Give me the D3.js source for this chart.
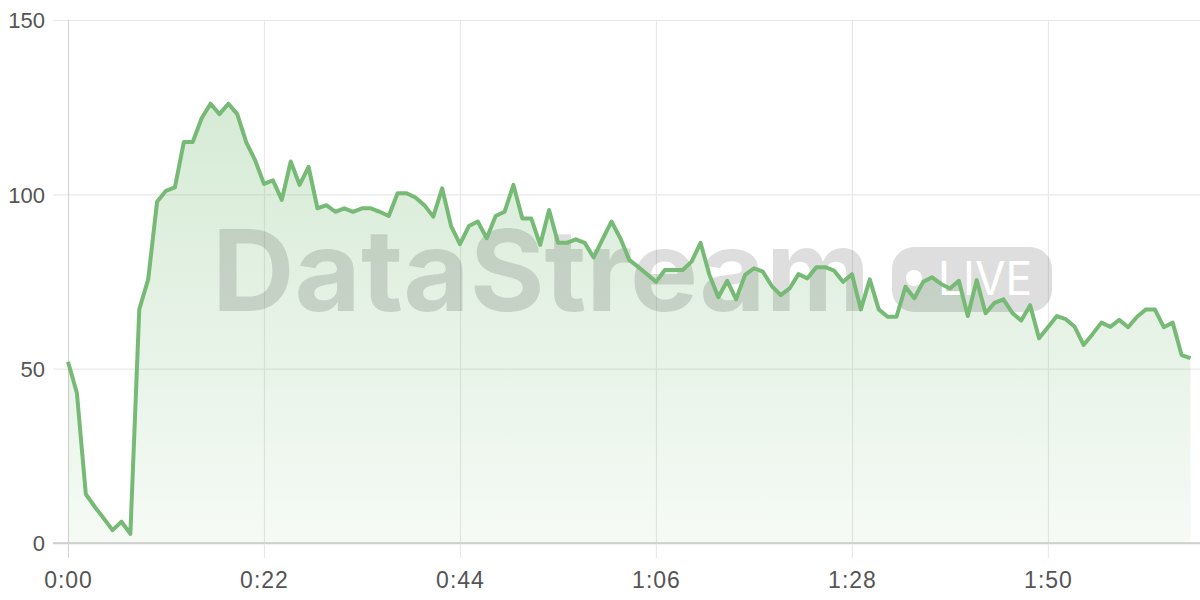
<!DOCTYPE html>
<html><head><meta charset="utf-8">
<script src="https://cdn.jsdelivr.net/npm/d3@7"></script>
<style>
html,body{margin:0;padding:0;background:#fff;}
svg{display:block;}
</style></head>
<body>
<svg id="chart" width="1200" height="600"></svg>
<script>
// seconds elapsed (one sample per second)
const seconds = d3.range(0, 127);
const values = [52,43,14,10.4,7.1,3.7,6.1,2.6,67,75.6,
97.9,101,102,115,115,121.8,126,123,126,123,
115,109.8,103,104,98.4,109.4,102.7,107.9,96,96.9,
95,96,95,96,96,95,93.8,100.3,100.3,99.1,
96.9,93.6,101.7,90.9,85.7,90.9,92.2,87.4,93.8,95,
102.7,93.1,93.1,85.5,95.5,86.1,86.1,87.1,86.1,81.9,
87.1,92.2,87.4,81.2,79.2,77.1,74.9,78.3,78.3,78.3,
80.7,86.1,76.9,70.5,75.2,69.9,76.9,78.8,77.8,73.7,
71.1,73,77.1,75.9,79.1,79.1,78.1,74.9,77.1,67,
75.6,67,64.9,64.9,73.5,70.2,74.9,76.2,74.3,73,
75.2,65.1,75.4,65.9,68.9,69.9,66,63.8,68.2,58.7,
61.9,65.1,64.2,62,56.8,59.9,63.2,62,64,61.9,
64.9,67,67,61.9,63.2,53.9,53];
const xTicks = [0, 22, 44, 66, 88, 110];
const yTicks = [0, 50, 100, 150];
const watermarkText = "DataStream";
const badgeText = "LIVE";

const data = seconds.map((s, i) => ({s, v: values[i]}));

const svg = d3.select("#chart");
const x = d3.scaleLinear().domain([0, 126]).range([68, 1190.5]);
const y = d3.scaleLinear().domain([0, 150]).range([543, 20]);
const fmt = s => Math.floor(s / 60) + ":" + String(s % 60).padStart(2, "0");
const font = "'Liberation Sans', Arial, sans-serif";

const defs = svg.append("defs");
const grad = defs.append("linearGradient").attr("id", "areaGrad")
  .attr("gradientUnits", "userSpaceOnUse")
  .attr("x1", 0).attr("x2", 0).attr("y1", y(126)).attr("y2", y(0));
grad.append("stop").attr("offset", 0).attr("stop-color", "#76ba76").attr("stop-opacity", 0.3);
grad.append("stop").attr("offset", 1).attr("stop-color", "#76ba76").attr("stop-opacity", 0.07);

// horizontal grid + y labels
const yAxis = d3.axisLeft(y).tickValues(yTicks).tickSize(-(1200 - 53)).tickPadding(8);
const gy = svg.append("g").attr("transform", "translate(53,0)").call(yAxis);
gy.select(".domain").remove();
gy.selectAll(".tick line").attr("stroke", d => d === 0 ? "#cfcfcf" : "#e9e9e9").attr("stroke-width", d => d === 0 ? 1.5 : 1.2);
gy.selectAll(".tick text").attr("font-family", font).attr("font-size", 22).attr("fill", "#555").attr("x", -8).attr("dy", "0.35em");

// vertical grid + x labels
const xAxis = d3.axisBottom(x).tickValues(xTicks).tickFormat(fmt).tickSize(-(558 - 20)).tickPadding(14);
const gx = svg.append("g").attr("transform", "translate(0,558)").call(xAxis);
gx.select(".domain").remove();
gx.selectAll(".tick line").attr("stroke", d => d === 0 ? "#d6d6d6" : "#e8e8e8").attr("stroke-width", 1.2);
gx.selectAll(".tick text").attr("font-family", font).attr("font-size", 23).attr("fill", "#555")
  .attr("letter-spacing", 1).attr("y", 14).attr("dy", "0.71em");

// redraw baseline above vertical grid
svg.append("line").attr("x1", 53).attr("x2", 1200).attr("y1", y(0)).attr("y2", y(0))
  .attr("stroke", "#cfcfcf").attr("stroke-width", 1.5);

// area
const area = d3.area().x(d => x(d.s)).y0(y(0)).y1(d => y(d.v));
svg.append("path").datum(data).attr("d", area).attr("fill", "url(#areaGrad)");

// watermark
const wm = svg.append("g");
wm.append("text").attr("x", 212).attr("y", 311)
  .attr("font-family", "Inter, 'Open Sans', sans-serif").attr("font-weight", 700)
  .attr("font-size", 113).attr("textLength", 658).attr("lengthAdjust", "spacingAndGlyphs")
  .attr("fill", "rgba(0,0,0,0.13)").text(watermarkText);
wm.append("rect").attr("x", 892).attr("y", 247).attr("width", 160).attr("height", 65)
  .attr("rx", 22).attr("fill", "rgba(0,0,0,0.13)");
wm.append("circle").attr("cx", 914).attr("cy", 278).attr("r", 8).attr("fill", "#fff");
wm.append("text").attr("x", 938).attr("y", 295)
  .attr("font-family", "Inter, 'Open Sans', sans-serif").attr("font-weight", 400)
  .attr("font-size", 46).attr("textLength", 94).attr("lengthAdjust", "spacingAndGlyphs")
  .attr("fill", "#fff").text(badgeText);

// line
const line = d3.line().x(d => x(d.s)).y(d => y(d.v));
svg.append("path").datum(data).attr("d", line).attr("fill", "none")
  .attr("stroke", "#76ba76").attr("stroke-width", 4).attr("stroke-linejoin", "round");
</script>
</body></html>
